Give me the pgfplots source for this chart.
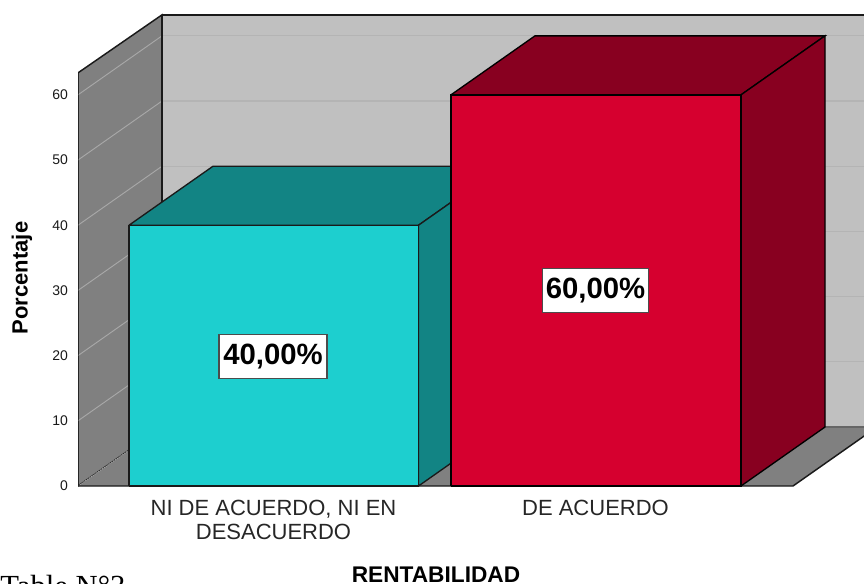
\documentclass[border=0pt]{standalone}
\usepackage{pgfplots}
\pgfplotsset{compat=1.18}
\usepackage{fontspec}
\setmainfont{Liberation Sans}
\newfontfamily\seriffont{Liberation Serif}
\definecolor{wallback}{HTML}{C0C0C0}
\definecolor{wallside}{HTML}{808080}
\definecolor{gridback}{HTML}{B4B4B4}
\definecolor{gridside}{HTML}{A8A8A8}
\definecolor{tealfront}{HTML}{1DCFCF}
\definecolor{tealdark}{HTML}{128484}
\definecolor{redfront}{HTML}{D6002F}
\definecolor{reddark}{HTML}{880020}
\definecolor{lin}{HTML}{1A1A1A}
\begin{document}
\begin{tikzpicture}[x=0.75pt,y=0.75pt]
\useasboundingbox (0,0) rectangle (864,583);
\begin{axis}[
  anchor=south west, at={(58.5pt,72.75pt)},
  scale only axis, width=589.5pt, height=354pt,
  xmin=78, xmax=864, ymin=0, ymax=72.4,
  clip=true,
  axis line style={draw=none},
  xtick=\empty,
  ytick={0,10,20,30,40,50,60},
  tick style={draw=none},
  yticklabel style={font=\fontsize{10.5}{11}\selectfont, text=black!90, xshift=-4pt},
  /pgf/number format/assume math mode=true,
]
% walls
\addplot[fill=wallback, draw=none] coordinates {(162,9.05)(864,9.05)(864,72.27)(162,72.27)(162,9.05)};
\addplot[fill=wallside, draw=lin, line width=1.1pt] coordinates {(78,0)(162,9.05)(162,72.27)(78,63.37)(78,0)};
\addplot[fill=wallside, draw=none] coordinates {(78,0)(793,0)(877,9.05)(162,9.05)(78,0)};
% grid back
\addplot[gridback, line width=0.9pt] coordinates {(162,19.05)(864,19.05)};
\addplot[gridback, line width=0.9pt] coordinates {(162,29.05)(864,29.05)};
\addplot[gridback, line width=0.9pt] coordinates {(162,39.05)(864,39.05)};
\addplot[gridback, line width=0.9pt] coordinates {(162,49.05)(864,49.05)};
\addplot[gridback, line width=0.9pt] coordinates {(162,59.05)(864,59.05)};
\addplot[gridback, line width=0.9pt] coordinates {(162,69.05)(864,69.05)};
% grid side
\addplot[gridside, line width=0.7pt, densely dotted] coordinates {(78,0)(162,9.05)};
\addplot[gridside, line width=0.7pt] coordinates {(78,10)(162,19.05)};
\addplot[gridside, line width=0.7pt] coordinates {(78,20)(162,29.05)};
\addplot[gridside, line width=0.7pt] coordinates {(78,30)(162,39.05)};
\addplot[gridside, line width=0.7pt] coordinates {(78,40)(162,49.05)};
\addplot[gridside, line width=0.7pt] coordinates {(78,50)(162,59.05)};
\addplot[gridside, line width=0.7pt] coordinates {(78,60)(162,69.05)};
% wall edges
\addplot[lin, line width=1.1pt] coordinates {(162,72.27)(864,72.27)};
\addplot[lin, line width=1.5pt] coordinates {(162,9.05)(162,72.27)};
\addplot[black!60, line width=0.9pt] coordinates {(162,9.05)(864,9.05)};
\addplot[lin, line width=1.1pt] coordinates {(78,63.37)(78,0)(793,0)(877,9.05)};
% bar 1
\addplot[fill=tealdark, draw=lin, line width=1pt] coordinates {(129,40)(418.5,40)(502.5,49.05)(213,49.05)(129,40)};
\addplot[fill=tealdark, draw=lin, line width=1pt] coordinates {(418.5,0)(502.5,9.05)(502.5,49.05)(418.5,40)(418.5,0)};
\addplot[fill=tealfront, draw=lin, line width=1pt] coordinates {(129,0)(418.5,0)(418.5,40)(129,40)(129,0)};
% bar 2
\addplot[fill=reddark, draw=black, line width=1pt] coordinates {(451,60)(741,60)(825,69.05)(535,69.05)(451,60)};
\addplot[fill=reddark, draw=black, line width=1pt] coordinates {(741,0)(825,9.05)(825,69.05)(741,60)(741,0)};
\addplot[fill=redfront, draw=black, line width=1pt] coordinates {(451,0)(741,0)(741,60)(451,60)(451,0)};
% labels
\node[fill=white, draw=black!70, line width=0.8pt, minimum width=81pt, minimum height=33pt, inner sep=0pt, font=\bfseries\fontsize{22}{24}\selectfont] at (axis cs:273,19.9) {40,00\%};
\node[fill=white, draw=black!70, line width=0.8pt, minimum width=80pt, minimum height=33pt, inner sep=0pt, font=\bfseries\fontsize{22}{24}\selectfont] at (axis cs:595.5,30) {60,00\%};
\end{axis}
\node[font=\fontsize{16.5}{18}\selectfont, align=center, text=black!85, inner sep=0pt] at (273.5,63.5) {NI DE ACUERDO, NI EN\\DESACUERDO};
\node[font=\fontsize{16.5}{18}\selectfont, text=black!85, inner sep=0pt] at (595.5,75.5) {DE ACUERDO};
\node[font=\bfseries\fontsize{16.5}{18}\selectfont, rotate=90, inner sep=0pt] at (22,305) {Porcentaje};
\node[font=\bfseries\fontsize{17}{18}\selectfont, inner sep=0pt] at (436,8.5) {RENTABILIDAD};
\node[font=\seriffont\fontsize{23}{25}\selectfont, anchor=base west, inner sep=0pt] at (0,-13) {Table N°3};
\end{tikzpicture}
\end{document}
